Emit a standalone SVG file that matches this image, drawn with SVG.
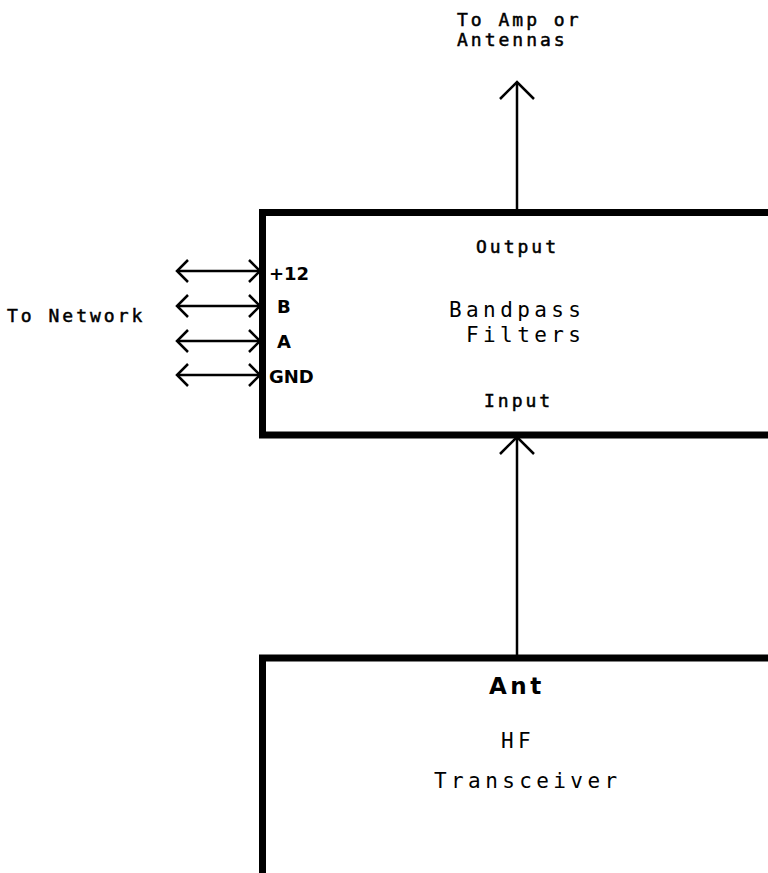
<svg xmlns="http://www.w3.org/2000/svg" width="768" height="873" viewBox="0 0 768 873">
<style>
.box{fill:#fff;stroke:#000;stroke-width:7}
.wire{fill:none;stroke:#000;stroke-width:2.5}
.mono{font-family:"DejaVu Sans Mono","Liberation Mono",monospace;fill:#000}
.sm{font-size:18px;letter-spacing:3px;stroke:#000;stroke-width:0.5px}
.lg{font-size:21px;letter-spacing:4.4px}
.pin{font-family:"DejaVu Sans","Liberation Sans",sans-serif;font-weight:bold;font-size:18px;fill:#000}
.bold{font-family:"DejaVu Sans","Liberation Sans",sans-serif;font-weight:bold;font-size:23px;letter-spacing:3.5px;fill:#000}
</style>
<defs>
<marker id="chevBig" viewBox="-3 -3 23 40" markerWidth="23" markerHeight="40" refX="17" refY="17" orient="auto-start-reverse" markerUnits="userSpaceOnUse" overflow="visible"><path d="M0,0 L17,17 L0,34" fill="none" stroke="#000" stroke-width="2.5"/></marker>
<marker id="chevSm" viewBox="-3 -3 17 28" markerWidth="17" markerHeight="28" refX="11" refY="11" orient="auto-start-reverse" markerUnits="userSpaceOnUse" overflow="visible"><path d="M0,0 L11,11 L0,22" fill="none" stroke="#000" stroke-width="2.5"/></marker>
</defs>
<rect width="768" height="873" fill="#fff"/>
<g id="connectors">
<line class="wire" x1="517" y1="212" x2="517" y2="82" marker-end="url(#chevBig)"/>
<line class="wire" x1="517" y1="657" x2="517" y2="437" marker-end="url(#chevBig)"/>
<line class="wire" x1="260" y1="271" x2="177" y2="271" marker-start="url(#chevSm)" marker-end="url(#chevSm)"/>
<line class="wire" x1="260" y1="306" x2="177" y2="306" marker-start="url(#chevSm)" marker-end="url(#chevSm)"/>
<line class="wire" x1="260" y1="341" x2="177" y2="341" marker-start="url(#chevSm)" marker-end="url(#chevSm)"/>
<line class="wire" x1="260" y1="375" x2="177" y2="375" marker-start="url(#chevSm)" marker-end="url(#chevSm)"/>
</g>
<g id="bandpass">
<rect class="box" x="262.5" y="212.5" width="560" height="222.5"/>
<text class="mono sm" x="476" y="253">Output</text>
<text class="mono lg" x="449" y="317">Bandpass</text>
<text class="mono lg" x="466" y="342">Filters</text>
<text class="mono sm" x="484" y="407">Input</text>
<text class="pin" x="269" y="280">+12</text>
<text class="pin" x="277" y="313">B</text>
<text class="pin" x="277" y="348">A</text>
<text class="pin" x="269" y="383">GND</text>
</g>
<g id="transceiver">
<rect class="box" x="262.5" y="658" width="560" height="260"/>
<text class="bold" x="489" y="694">Ant</text>
<text class="mono lg" x="501" y="748">HF</text>
<text class="mono lg" x="434" y="788">Transceiver</text>
</g>
<g id="amp-label">
<text class="mono sm" x="457" y="26">To Amp or</text>
<text class="mono sm" x="457" y="46">Antennas</text>
</g>
<g id="network-label">
<text class="mono sm" x="7" y="322">To Network</text>
</g>
</svg>
